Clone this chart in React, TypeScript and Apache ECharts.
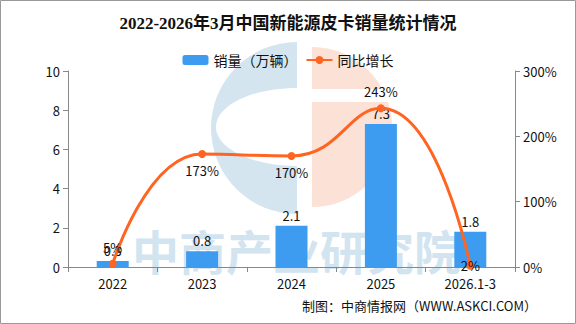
import React, { useEffect, useRef } from "react";
import * as echarts from "echarts";

const categories = ["2022", "2023", "2024", "2025", "2026.1-3"];
const sales = [0.3, 0.8, 2.1, 7.3, 1.8];
const growth = [5, 173, 170, 243, 2];
const growthLabelPos = ["top", "bottom", "bottom", "top", "inside"];

const FONT = "'Noto Sans CJK SC', sans-serif";

export default function App() {
  const ref = useRef<HTMLDivElement>(null);
  useEffect(() => {
    if (!ref.current) return;
    const chart = echarts.init(ref.current, null, { renderer: "svg" });
    chart.setOption({
      animation: false,
      backgroundColor: "#fff",
      textStyle: { fontFamily: FONT },
      title: {
        text: "2022-2026年3月中国新能源皮卡销量统计情况",
        left: "center",
        top: 10,
        textStyle: {
          fontSize: 17,
          fontWeight: "bold",
          color: "#111",
          fontFamily: "'Liberation Serif', 'Noto Sans CJK SC', serif",
        },
      },
      legend: {
        top: 48,
        left: "center",
        itemWidth: 26,
        itemHeight: 10,
        itemGap: 8,
        textStyle: { fontSize: 14, color: "#111", fontFamily: FONT },
        data: ["销量（万辆）", "同比增长"],
      },
      graphic: [
        {
          type: "rect",
          z: -10,
          shape: { x: 0.5, y: 0.5, width: 575, height: 323 },
          style: { fill: "none", stroke: "#999", lineWidth: 1 },
          silent: true,
        },
        {
          type: "sector",
          z: -5,
          shape: { cx: 297, cy: 128, r: 86, r0: 0, startAngle: Math.PI / 2, endAngle: (3 * Math.PI) / 2, clockwise: true },
          style: { fill: "#D4E5EF" },
          silent: true,
        },
        {
          type: "ellipse",
          z: -5,
          shape: { cx: 297, cy: 127, rx: 81, ry: 39 },
          style: { fill: "#fff" },
          silent: true,
        },
        {
          type: "sector",
          z: -5,
          shape: { cx: 312, cy: 127, r: 80, r0: 0, startAngle: -Math.PI / 2, endAngle: Math.PI / 2, clockwise: true },
          style: { fill: "#FBE1D6" },
          silent: true,
        },
        {
          type: "rect",
          z: -5,
          shape: { x: 310, y: 89, width: 90, height: 13 },
          style: { fill: "#fff" },
          silent: true,
        },
        {
          type: "text",
          z: -4,
          left: 132,
          top: 226,
          style: {
            text: "中商产业研究院",
            fontSize: 47,
            fontWeight: "bold",
            fill: "#D2E4F0",
            fontFamily: FONT,
          },
          silent: true,
        },
        {
          type: "text",
          right: 39,
          top: 299,
          style: {
            text: "制图：中商情报网（WWW.ASKCI.COM）",
            fontSize: 13,
            fill: "#111",
            fontFamily: FONT,
          },
        },
      ],
      grid: { left: 68, right: 61, top: 71, bottom: 57 },
      xAxis: {
        type: "category",
        data: categories,
        axisLine: { lineStyle: { color: "#888" } },
        axisTick: { show: true, lineStyle: { color: "#888" } },
        axisLabel: { color: "#111", fontSize: 13, margin: 10 },
      },
      yAxis: [
        {
          type: "value",
          min: 0,
          max: 10,
          interval: 2,
          splitLine: { show: false },
          axisLine: { show: true, lineStyle: { color: "#888" } },
          axisTick: { show: true, lineStyle: { color: "#888" } },
          axisLabel: { color: "#111", fontSize: 13 },
        },
        {
          type: "value",
          min: 0,
          max: 300,
          interval: 100,
          splitLine: { show: false },
          axisLine: { show: true, lineStyle: { color: "#888" } },
          axisTick: { show: true, lineStyle: { color: "#888" } },
          axisLabel: { color: "#111", fontSize: 13, formatter: "{value}%" },
        },
      ],
      series: [
        {
          name: "销量（万辆）",
          type: "bar",
          data: sales,
          barWidth: 32,
          itemStyle: { color: "#3D9CF0" },
          label: { show: true, position: "top", color: "#111", fontSize: 13, distance: 4 },
        },
        {
          name: "同比增长",
          type: "line",
          yAxisIndex: 1,
          smooth: 0.5,
          data: growth.map((v, i) => ({
            value: v,
            label: { position: growthLabelPos[i] },
          })),
          symbol: "circle",
          symbolSize: 8,
          lineStyle: { color: "#FF6421", width: 3 },
          itemStyle: { color: "#FF6421" },
          label: { show: true, color: "#111", fontSize: 13, formatter: "{c}%", distance: 6 },
          z: 5,
        },
      ],
    });
    return () => chart.dispose();
  }, []);
  return <div ref={ref} style={{ position: "absolute", left: 0, top: 0, width: 576, height: 324 }} />;
}
